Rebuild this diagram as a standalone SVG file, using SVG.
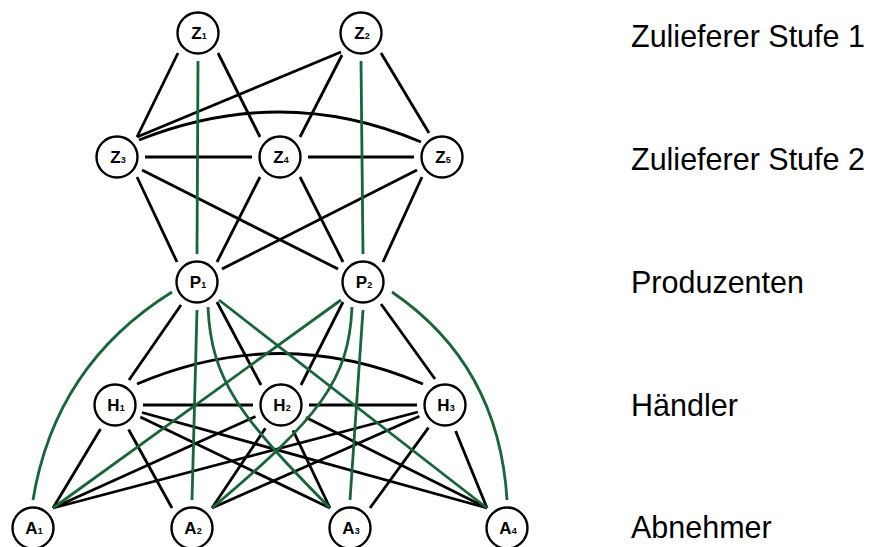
<svg xmlns="http://www.w3.org/2000/svg" width="872" height="547" viewBox="0 0 872 547">
  <style>
    .e { fill: none; stroke: #000; stroke-width: 2.8; stroke-linecap: butt; }
    .g { fill: none; stroke: #19653a; stroke-width: 2.8; }
    .n circle { fill: #fff; stroke: #000; stroke-width: 2.4; }
    .n text { font-family: "Liberation Sans", Arial, sans-serif; font-weight: bold; font-size: 17px; text-anchor: middle; fill: #000; }
    .n tspan.s { font-size: 9px; }
    .lvl { font-family: "Liberation Sans", Arial, sans-serif; font-size: 30.5px; fill: #000; }
  </style>
  <rect width="872" height="547" fill="#fff"/>

  <g id="connectors">
    <!-- supplier tiers -->
    <line class="e" x1="178" y1="53" x2="137" y2="137"/>
    <line class="e" x1="218" y1="53" x2="260" y2="137"/>
    <line class="e" x1="341" y1="52" x2="137" y2="137"/>
    <line class="e" x1="342" y1="55" x2="300" y2="137"/>
    <line class="e" x1="381" y1="53" x2="429" y2="133"/>
    <line class="e" x1="145" y1="157" x2="252" y2="157"/>
    <line class="e" x1="308" y1="157" x2="414" y2="157"/>
    <path class="e" d="M139 140 Q283 83 421 142"/>
    <line class="e" x1="137" y1="177" x2="177" y2="262"/>
    <line class="e" x1="142" y1="170" x2="338" y2="269"/>
    <line class="e" x1="260" y1="177" x2="217" y2="262"/>
    <line class="e" x1="300" y1="177" x2="343" y2="262"/>
    <line class="e" x1="417" y1="170" x2="222" y2="269"/>
    <line class="e" x1="422" y1="177" x2="383" y2="262"/>
    <line class="g" x1="198" y1="61" x2="197" y2="254"/>
    <line class="g" x1="361" y1="61" x2="363" y2="254"/>

    <!-- producers to traders -->
    <line class="e" x1="181" y1="305" x2="129" y2="380"/>
    <line class="e" x1="217" y1="302" x2="261" y2="385"/>
    <line class="e" x1="343" y1="302" x2="301" y2="385"/>
    <line class="e" x1="381" y1="304" x2="435" y2="379"/>

    <!-- traders -->
    <line class="e" x1="143" y1="405" x2="253" y2="405"/>
    <line class="e" x1="309" y1="405" x2="417" y2="405"/>
    <path class="e" d="M137 384 Q280 323 423 384"/>

    <!-- traders to customers -->
    <line class="e" x1="100.5" y1="429" x2="53" y2="508"/>
    <line class="e" x1="128.6" y1="429.5" x2="172" y2="508"/>
    <line class="e" x1="140.3" y1="417.1" x2="330" y2="508"/>
    <line class="e" x1="142" y1="412.5" x2="487" y2="508"/>
    <line class="e" x1="255.5" y1="416.5" x2="53" y2="508"/>
    <line class="e" x1="265.4" y1="428.3" x2="212" y2="508"/>
    <line class="e" x1="293" y1="430.3" x2="330" y2="508"/>
    <line class="e" x1="306" y1="417.5" x2="487" y2="508"/>
    <line class="e" x1="418" y1="412" x2="53" y2="508"/>
    <line class="e" x1="419.4" y1="416.3" x2="212" y2="508"/>
    <line class="e" x1="428.5" y1="427.6" x2="370" y2="508"/>
    <line class="e" x1="455.6" y1="431" x2="487" y2="508"/>

    <!-- producers direct to customers -->
    <path class="g" d="M172 292 Q55 365 33 500"/>
    <line class="g" x1="197" y1="310" x2="192" y2="500"/>
    <path class="g" d="M208 307 C211 380 240 417 330 508"/>
    <line class="g" x1="219" y1="300" x2="487" y2="508"/>
    <line class="g" x1="341" y1="300" x2="53" y2="508"/>
    <path class="g" d="M352 307 C349 380 320 417 212 508"/>
    <line class="g" x1="363" y1="310" x2="350" y2="500"/>
    <path class="g" d="M392 292 Q499 365 507 500"/>
  </g>

  <g id="Z1" class="n"><circle cx="198" cy="33" r="20.5"/><text x="199" y="39">Z<tspan class="s">1</tspan></text></g>
  <g id="Z2" class="n"><circle cx="361" cy="33" r="20.5"/><text x="362" y="39">Z<tspan class="s">2</tspan></text></g>
  <g id="Z3" class="n"><circle cx="117" cy="157" r="20.5"/><text x="118" y="163">Z<tspan class="s">3</tspan></text></g>
  <g id="Z4" class="n"><circle cx="280" cy="157" r="20.5"/><text x="281" y="163">Z<tspan class="s">4</tspan></text></g>
  <g id="Z5" class="n"><circle cx="442" cy="157" r="20.5"/><text x="443" y="163">Z<tspan class="s">5</tspan></text></g>
  <g id="P1" class="n"><circle cx="197" cy="282" r="20.5"/><text x="198" y="288">P<tspan class="s">1</tspan></text></g>
  <g id="P2" class="n"><circle cx="363" cy="282" r="20.5"/><text x="364" y="288">P<tspan class="s">2</tspan></text></g>
  <g id="H1" class="n"><circle cx="115" cy="405" r="20.5"/><text x="116" y="411">H<tspan class="s">1</tspan></text></g>
  <g id="H2" class="n"><circle cx="281" cy="405" r="20.5"/><text x="282" y="411">H<tspan class="s">2</tspan></text></g>
  <g id="H3" class="n"><circle cx="445" cy="405" r="20.5"/><text x="446" y="411">H<tspan class="s">3</tspan></text></g>
  <g id="A1" class="n"><circle cx="33" cy="528" r="20.5"/><text x="34" y="534">A<tspan class="s">1</tspan></text></g>
  <g id="A2" class="n"><circle cx="192" cy="528" r="20.5"/><text x="193" y="534">A<tspan class="s">2</tspan></text></g>
  <g id="A3" class="n"><circle cx="350" cy="528" r="20.5"/><text x="351" y="534">A<tspan class="s">3</tspan></text></g>
  <g id="A4" class="n"><circle cx="507" cy="528" r="20.5"/><text x="508" y="534">A<tspan class="s">4</tspan></text></g>

  <g id="levels">
    <text class="lvl" x="631" y="47">Zulieferer Stufe 1</text>
    <text class="lvl" x="631" y="170">Zulieferer Stufe 2</text>
    <text class="lvl" x="631" y="293">Produzenten</text>
    <text class="lvl" x="631" y="416">Händler</text>
    <text class="lvl" x="631" y="538">Abnehmer</text>
  </g>
</svg>
